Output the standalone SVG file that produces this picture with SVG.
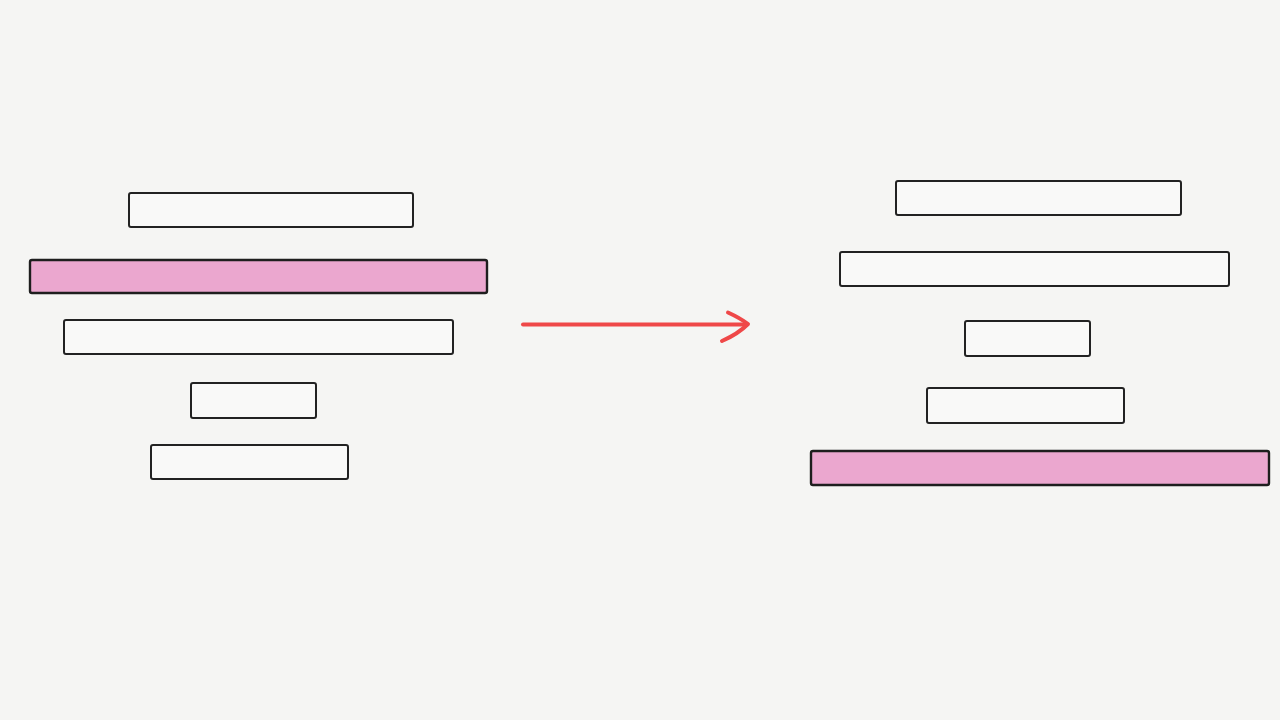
<svg xmlns="http://www.w3.org/2000/svg" width="1280" height="720" viewBox="0 0 1280 720">
<style>
.bar{fill:#f9f9f8;stroke:#222;stroke-width:2}
.hl{fill:#eba7cf;stroke:#1e1e1e;stroke-width:2.4}
.arrow{fill:none;stroke:#ef4848;stroke-width:4;stroke-linecap:round;stroke-linejoin:round}
</style>
<rect width="1280" height="720" fill="#f5f5f3"/>
<g id="left">
<rect id="l1" class="bar" x="129" y="193" width="284" height="34" rx="2"/>
<rect id="l2" class="hl" x="30" y="260" width="457" height="33" rx="2"/>
<rect id="l3" class="bar" x="64" y="320" width="389" height="34" rx="2"/>
<rect id="l4" class="bar" x="191" y="383" width="125" height="35" rx="2"/>
<rect id="l5" class="bar" x="151" y="445" width="197" height="34" rx="2"/>
</g>
<g id="right">
<rect id="r1" class="bar" x="896" y="181" width="285" height="34" rx="2"/>
<rect id="r2" class="bar" x="840" y="252" width="389" height="34" rx="2"/>
<rect id="r3" class="bar" x="965" y="321" width="125" height="35" rx="2"/>
<rect id="r4" class="bar" x="927" y="388" width="197" height="35" rx="2"/>
<rect id="r5" class="hl" x="811" y="451" width="458" height="34" rx="2"/>
</g>
<g id="connectors">
<path class="arrow" d="M523 324.5 L747 324.5"/>
<path class="arrow" d="M728 312.5 Q740 318 748 324 Q738 334 722 341"/>
</g>
</svg>
